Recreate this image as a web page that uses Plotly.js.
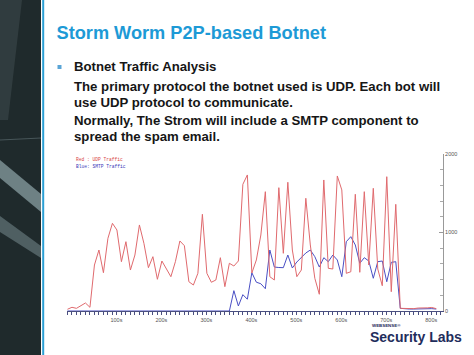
<!DOCTYPE html>
<html>
<head>
<meta charset="utf-8">
<script src="https://cdn.plot.ly/plotly-3.0.1.min.js"></script>
<style>html,body{margin:0;padding:0;background:#fff;}#chart{width:474px;height:355px;}</style>
</head>
<body>
<div id="chart"></div>
<script>
// ---- data ----
const timeSeconds = [0,10,20,30,40,50,60,70,80,90,100,110,120,130,140,150,160,170,180,190,200,210,220,230,240,250,260,270,280,290,300,310,320,330,340,350,360,370,380,390,400,410,420,430,440,450,460,470,480,490,500,510,520,530,540,550,560,570,580,590,600,610,620,630,640,650,660,670,680,690,700,710,720,730,740,750,760,770,780,790,800,810,820];
const udpTraffic = [22,47,34,68,102,47,586,777,488,926,1117,1032,628,883,522,713,1096,862,552,692,404,637,544,437,628,892,832,373,331,480,1232,480,366,395,679,310,608,573,637,1614,1733,484,650,968,1520,437,395,1571,735,1640,777,437,522,1436,841,417,213,1669,544,535,1720,1542,480,500,1487,493,1520,586,1563,535,322,1711,246,1359,34,30,35,30,38,35,40,45,30];
const smtpTraffic = [0,0,0,0,0,0,0,0,0,0,0,0,0,0,0,0,0,0,0,0,0,0,0,0,0,0,0,0,0,0,0,0,0,0,0,0,0,259,64,208,150,487,367,347,284,777,560,554,552,713,548,624,688,739,777,692,560,679,628,713,650,437,883,947,841,608,679,637,417,628,637,373,620,628,34,25,25,25,28,28,30,30,25];
const xTickValues = [100,200,300,400,500,600,700,800];
const xTickLabels = ['100s','200s','300s','400s','500s','600s','700s','800s'];
const yTickValues = [0,1000,2000];
const yTickLabels = ['0','1000','2000'];
const legendLines = ['Red : UDP Traffic','Blue: SMTP Traffic'];
const slideTitle = 'Storm Worm P2P-based Botnet';
const bodyLines = [
  'Botnet Traffic Analysis',
  'The primary protocol the botnet used is UDP. Each bot will',
  'use UDP protocol to communicate.',
  'Normally, The Strom will include a SMTP component to',
  'spread the spam email.'
];

// ---- layout helpers (pixel -> paper) ----
const L=67, R=443, T=154, B=311;
function px(x){return (x-L)/(R-L);}
function py(y){return (B-y)/(B-T);}

const sans = 'Liberation Sans, Arial, sans-serif';
const mono = 'Liberation Mono, DejaVu Sans Mono, monospace';

const traces = [
  {x: timeSeconds, y: smtpTraffic, type:'scatter', mode:'lines', line:{color:'#4a4fc4', width:1}, hoverinfo:'skip'},
  {x: timeSeconds, y: udpTraffic, type:'scatter', mode:'lines', line:{color:'#e06a6e', width:1}, hoverinfo:'skip'}
];

const annotations = [];
const bodyY = [66.8, 86, 102, 120, 136];
bodyLines.forEach((t,i)=>{
  annotations.push({xref:'paper', yref:'paper', x:px(71.5), y:py(bodyY[i]), xanchor:'left', yanchor:'middle',
    text:'<b>'+t+'</b>', showarrow:false, font:{family:sans, size:13.2, color:'#161616'}});
});
annotations.push({xref:'paper', yref:'paper', x:px(73.5), y:py(159), xanchor:'left', yanchor:'middle',
  text:legendLines[0], showarrow:false, font:{family:mono, size:4.6, color:'#d84848'}});
annotations.push({xref:'paper', yref:'paper', x:px(73.5), y:py(166.5), xanchor:'left', yanchor:'middle',
  text:legendLines[1], showarrow:false, font:{family:mono, size:4.6, color:'#3a3ab8'}});
annotations.push({xref:'paper', yref:'paper', x:px(368), y:py(336.5), xanchor:'left', yanchor:'middle',
  text:'<b>Security Labs</b>', showarrow:false, font:{family:sans, size:14, color:'#1f2d5c'}});
annotations.push({xref:'paper', yref:'paper', x:px(370), y:py(325.5), xanchor:'left', yanchor:'middle',
  text:'<b>WEBSENSE®</b>', showarrow:false, font:{family:sans, size:4.4, color:'#1f2d5c'}});

const shapes = [
  {type:'rect', xref:'paper', yref:'paper', x0:px(0), x1:px(41), y0:py(0), y1:py(355), fillcolor:'#1f2a2c', line:{width:0}},
  {type:'path', xref:'paper', yref:'paper',
    path:'M '+px(0)+' '+py(160)+' L '+px(41)+' '+py(194)+' L '+px(41)+' '+py(212)+' L '+px(0)+' '+py(178)+' Z',
    fillcolor:'rgba(175,200,205,0.55)', line:{width:0}},
  {type:'path', xref:'paper', yref:'paper',
    path:'M '+px(0)+' '+py(216)+' L '+px(41)+' '+py(246)+' L '+px(41)+' '+py(258)+' L '+px(0)+' '+py(232)+' Z',
    fillcolor:'rgba(170,195,200,0.35)', line:{width:0}},
  {type:'path', xref:'paper', yref:'paper',
    path:'M '+px(0)+' '+py(0)+' L '+px(22)+' '+py(0)+' L '+px(8)+' '+py(120)+' L '+px(0)+' '+py(120)+' Z',
    fillcolor:'rgba(120,135,140,0.2)', line:{width:0}},
  {type:'line', xref:'paper', yref:'paper', x0:px(0), x1:px(41), y0:py(140), y1:py(138), line:{color:'rgba(150,170,175,0.35)', width:1}},
  {type:'line', xref:'paper', yref:'paper', x0:px(43.2), x1:px(43.2), y0:py(0), y1:py(355), line:{color:'#2b9fd4', width:2}},
  {type:'rect', xref:'paper', yref:'paper', x0:px(57.5), x1:px(61.5), y0:py(65), y1:py(69), fillcolor:'#5aa5d6', line:{width:0}}
];

const layout = {
  width:474, height:355,
  margin:{l:L, r:474-R, t:T, b:355-B, pad:0},
  paper_bgcolor:'#ffffff', plot_bgcolor:'#ffffff',
  showlegend:false,
  title:{text:'<b>'+slideTitle+'</b>', xref:'container', yref:'container', x:56.5/474, xanchor:'left',
    y:1-33/355, yanchor:'middle', font:{family:sans, size:18.2, color:'#1d9ad6'}},
  xaxis:{range:[-1,835], showgrid:false, zeroline:false, showline:true, linecolor:'#4a4f80', linewidth:1,
    tickmode:'array', tickvals:xTickValues, ticktext:xTickLabels, ticks:'outside', ticklen:3, tickcolor:'#4a4f80',
    ticklabelshift:4,
    minor:{dtick:10, tick0:0, ticks:'outside', ticklen:3, tickcolor:'#4a4f80', showgrid:false},
    tickfont:{family:sans, size:5.5, color:'#555'}, fixedrange:true},
  yaxis:{range:[0,2000], side:'right', showgrid:false, zeroline:false, showline:true, linecolor:'#999', linewidth:1,
    tickmode:'array', tickvals:yTickValues, ticktext:yTickLabels, ticks:'inside', ticklen:4, tickcolor:'#999',
    minor:{dtick:200, tick0:0, ticks:'inside', ticklen:3, tickcolor:'#aaa', showgrid:false},
    tickfont:{family:sans, size:5.5, color:'#555'}, fixedrange:true},
  annotations: annotations,
  shapes: shapes
};

Plotly.newPlot('chart', traces, layout, {staticPlot:true, displayModeBar:false});
</script>
</body>
</html>
